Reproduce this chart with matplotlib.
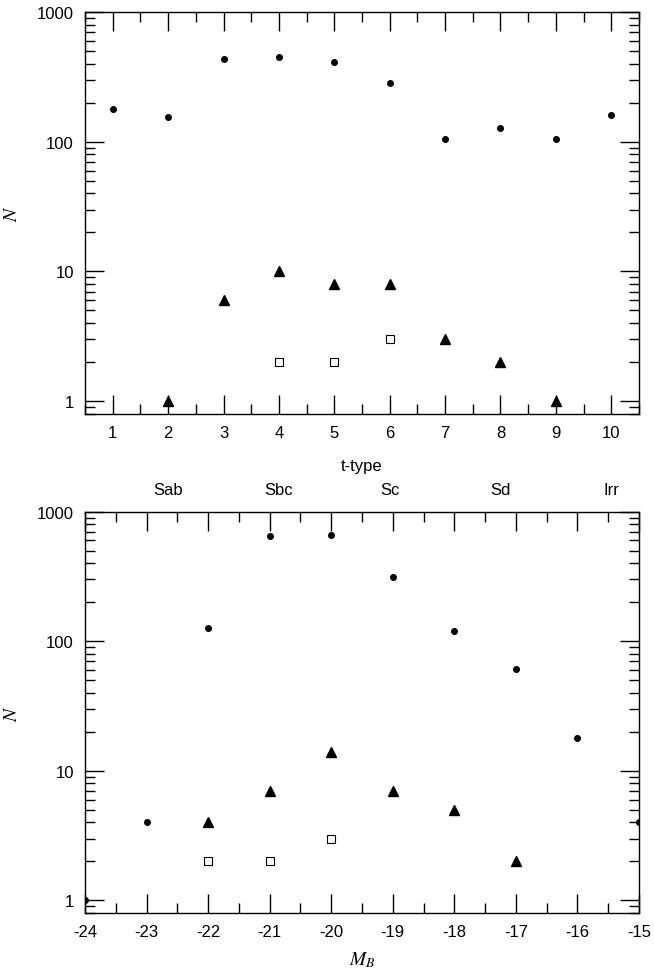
import matplotlib
matplotlib.use("Agg")
import matplotlib.pyplot as plt
from matplotlib.ticker import LogLocator, NullFormatter, MultipleLocator
import matplotlib.transforms as mtransforms

plt.rcParams['font.family'] = ['Liberation Sans', 'DejaVu Sans']
plt.rcParams['axes.unicode_minus'] = False
plt.rcParams['mathtext.fontset'] = 'stix'

# top panel: counts per t-type
ttype = [1, 2, 3, 4, 5, 6, 7, 8, 9, 10]
top_all = [179, 156, 433, 454, 416, 286, 106, 127, 106, 161]
top_tri_x = [2, 3, 4, 5, 6, 7, 8, 9]
top_tri = [1, 6, 10, 8, 8, 3, 2, 1]
top_sq_x = [4, 5, 6]
top_sq = [2, 2, 3]
hubble_pos = [2, 4, 6, 8, 10]
hubble_names = ['Sab', 'Sbc', 'Sc', 'Sd', 'Irr']

# bottom panel: counts per absolute magnitude
mb = [-24, -23, -22, -21, -20, -19, -18, -17, -16, -15]
bot_all = [1, 4, 126, 643, 663, 312, 120, 61, 18, 4]
bot_tri_x = [-22, -21, -20, -19, -18, -17]
bot_tri = [4, 7, 14, 7, 5, 2]
bot_sq_x = [-22, -21, -20]
bot_sq = [2, 2, 3]

fig = plt.figure(figsize=(6.54, 9.70), dpi=100)
ax1 = fig.add_axes([0.130, 0.5722, 0.847, 0.4141])
ax2 = fig.add_axes([0.130, 0.0574, 0.847, 0.4141])


def style(ax):
    ax.set_yscale('log')
    ax.set_ylim(0.795, 1000)
    ax.set_yticks([1, 10, 100, 1000])
    ax.set_yticklabels(['1', '10', '100', '1000'])
    ax.yaxis.set_minor_locator(LogLocator(base=10, subs=range(2, 10)))
    ax.yaxis.set_minor_formatter(NullFormatter())
    ax.xaxis.set_minor_locator(MultipleLocator(0.5))
    ax.tick_params(which='both', direction='in', top=True, right=True,
                   labelsize=12, pad=8, color='black')
    ax.tick_params(which='major', length=13.5, width=1)
    ax.tick_params(which='minor', length=7, width=1)
    for s in ax.spines.values():
        s.set_linewidth(1)
    ax.set_ylabel('$N$', fontsize=14)
    ax.yaxis.set_label_coords(-0.115, 0.5)


def draw(ax, x, y, tx, ty, sx, sy):
    ax.plot(x, y, 'o', color='black', ms=4, ls='none')
    ax.plot(tx, ty, '^', color='black', ms=6.5, ls='none')
    ax.plot(sx, sy, 's', mfc='white', mec='black', mew=0.8, ms=5.5, ls='none')


style(ax1)
draw(ax1, ttype, top_all, top_tri_x, top_tri, top_sq_x, top_sq)
ax1.set_xlim(0.5, 10.5)
ax1.set_xticks(ttype)
ax1.text(0.5, -0.128, 't-type', transform=ax1.transAxes, ha='center',
         va='center', fontsize=12)
trans = mtransforms.blended_transform_factory(ax1.transData, ax1.transAxes)
for p, name in zip(hubble_pos, hubble_names):
    ax1.text(p, -0.187, name, transform=trans, ha='center', va='center',
             fontsize=12)

style(ax2)
draw(ax2, mb, bot_all, bot_tri_x, bot_tri, bot_sq_x, bot_sq)
ax2.set_xlim(-24, -15)
ax2.set_xticks(mb)
ax2.text(0.5, -0.114, '$M_B$', transform=ax2.transAxes, ha='center',
         va='center', fontsize=14)

fig.savefig('out.png', dpi=100)
